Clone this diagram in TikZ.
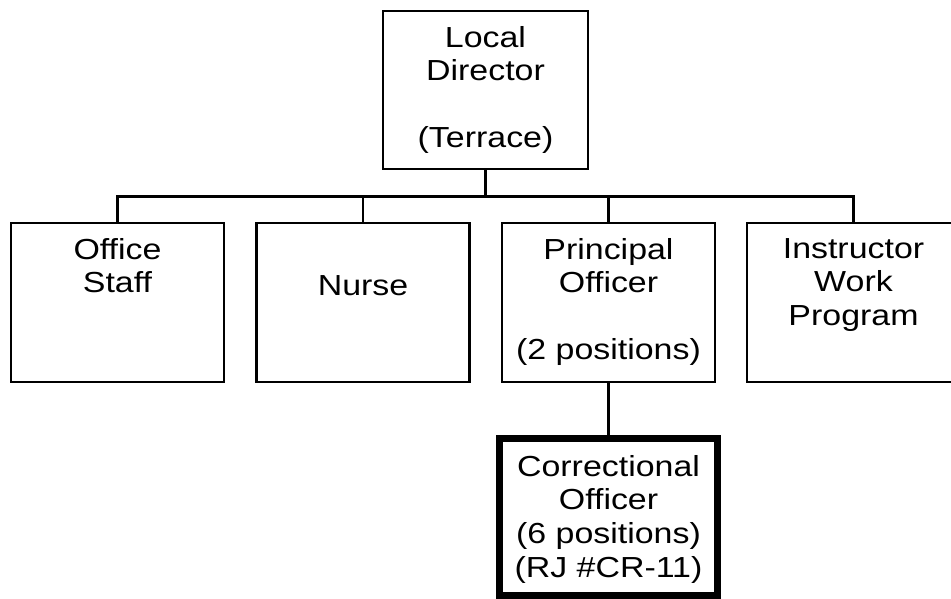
\documentclass[tikz,border=0pt]{standalone}
\usepackage{fontspec}
\setmainfont[FakeStretch=1.17]{Liberation Sans}
\begin{document}
\begin{tikzpicture}[x=0.02cm, y=-0.02cm,
        post/.style={draw, line width=1.3pt, minimum width=4.26cm, minimum height=3.18cm},
        link/.style={line width=1.3pt},
        txt/.style={anchor=north, align=center, inner sep=0pt,
            font=\fontsize{16.5}{19.1}\selectfont, execute at begin node=\strut}]
            \useasboundingbox (0,0) rectangle (951,599);
            \clip (0,0) rectangle (951,599);

            % Nodes (boxes)
            \node[post, minimum width=4.11cm, minimum height=3.16cm] (director) at (485.5,90) {};
            \node[post] (office) at (117.5,302.5) {};
            \node[post] (nurse) at (363,302.5) {};
            \node[post] (principal) at (608.5,302.5) {};
            \node[post] (instructor) at (853.5,302.5) {};
            \node[post, line width=4pt, minimum width=4.36cm, minimum height=3.14cm] (correctional) at (608.5,517) {};

            % Lines
            \coordinate (bar) at (485.5,196.5);
            \draw[link] (director.south) -- (bar);
            \draw[link] (bar) -| (office.north);
            \draw[link] (bar) -| (nurse.north);
            \draw[link] (bar) -| (principal.north);
            \draw[link] (bar) -| (instructor.north);
            \draw[link] (principal.south) -- (correctional.north);

            % Labels
            \node[txt] (directortxt) at ([yshift=-0.32cm]director.north) {Local\\Director\\\strut\\(Terrace)};
            \node[txt] (officetxt) at ([yshift=-0.32cm]office.north) {Office\\Staff};
            \node[txt] (nursetxt) at ([yshift=-0.32cm]nurse.north) {\strut\\Nurse};
            \node[txt] (principaltxt) at ([yshift=-0.32cm]principal.north) {Principal\\Officer\\\strut\\(2 positions)};
            \node[txt] (instructortxt) at ([yshift=-0.32cm]instructor.north) {Instructor\\Work\\Program};
            \node[txt] (correctionaltxt) at ([yshift=-0.40cm]correctional.north) {Correctional\\Officer\\(6 positions)\\(RJ \#CR-11)};
        \end{tikzpicture}
\end{document}
